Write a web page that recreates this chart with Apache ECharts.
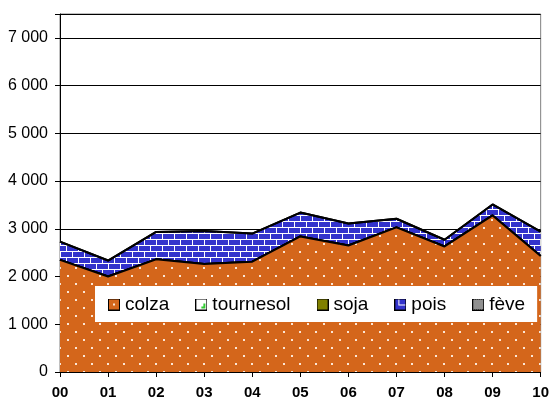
<!DOCTYPE html>
<html>
<head>
<meta charset="utf-8">
<script src="https://cdn.jsdelivr.net/npm/echarts@6/dist/echarts.min.js"></script>
<style>
  html, body { margin: 0; padding: 0; background: #fff; }
  #chart { width: 552px; height: 403px; }
</style>
</head>
<body>
<div id="chart"></div>
<script>
// data (stacked, in order)
const years = ["00", "01", "02", "03", "04", "05", "06", "07", "08", "09", "10"];
const colza = [2350, 2000, 2360, 2265, 2310, 2840, 2650, 3030, 2630, 3280, 2430];
const tournesol = [0, 0, 0, 0, 0, 0, 0, 0, 0, 0, 0];
const soja = [0, 0, 0, 0, 0, 0, 0, 0, 0, 0, 0];
const pois = [380, 335, 575, 690, 590, 500, 460, 180, 140, 230, 510];
const feve = [0, 0, 0, 0, 0, 0, 0, 0, 0, 0, 0];
const yLabels = ["0", "1 000", "2 000", "3 000", "4 000", "5 000", "6 000", "7 000"];

const FONT = "'Liberation Sans', Arial, sans-serif";
const ORANGE = "#D4661B";
const BLUE = "#3333CC";

function tile(w, h, draw) {
  const c = document.createElement("canvas");
  c.width = w;
  c.height = h;
  draw(c.getContext("2d"), w, h);
  return c;
}

// fill patterns
const dots = tile(16, 16, (g) => {
  g.fillStyle = ORANGE;
  g.fillRect(0, 0, 16, 16);
  g.fillStyle = "#FBE6D6";
  g.fillRect(3, 3, 2, 2);
  g.fillRect(11, 11, 2, 2);
});
const bricks = tile(12, 12, (g) => {
  g.fillStyle = BLUE;
  g.fillRect(0, 0, 12, 12);
  g.fillStyle = "#fff";
  g.fillRect(0, 5, 12, 1);
  g.fillRect(0, 11, 12, 1);
  g.fillRect(0, 0, 1, 5);
  g.fillRect(6, 6, 1, 5);
});
const green = tile(8, 8, (g) => {
  g.fillStyle = "#fff";
  g.fillRect(0, 0, 8, 8);
  g.fillStyle = "#33CC33";
  g.fillRect(6, 3, 1, 4);
});
const checker = tile(2, 2, (g) => {
  g.fillStyle = "#fff";
  g.fillRect(0, 0, 2, 2);
  g.fillStyle = "#555";
  g.fillRect(0, 0, 1, 1);
  g.fillRect(1, 1, 1, 1);
});

// legend icons, 12x12 with black frame
function icon(draw) {
  return "image://" + tile(12, 12, (g) => {
    g.fillStyle = "#000";
    g.fillRect(0, 0, 12, 12);
    draw(g);
  }).toDataURL();
}
const icons = {
  colza: icon((g) => {
    g.fillStyle = ORANGE; g.fillRect(1, 1, 10, 10);
    g.fillStyle = "#FBE6D6"; g.fillRect(5, 5, 2, 2);
  }),
  tournesol: icon((g) => {
    g.fillStyle = "#fff"; g.fillRect(1, 1, 10, 10);
    g.fillStyle = "#33CC33"; g.fillRect(8, 5, 2, 5); g.fillRect(6, 8, 4, 2);
  }),
  soja: icon((g) => {
    g.fillStyle = "#808000"; g.fillRect(1, 1, 10, 10);
  }),
  pois: icon((g) => {
    g.fillStyle = BLUE; g.fillRect(1, 1, 10, 10);
    g.fillStyle = "#fff"; g.fillRect(4, 1, 1, 6); g.fillRect(4, 6, 7, 1);
  }),
  feve: icon((g) => {
    g.fillStyle = "#444"; g.fillRect(1, 1, 10, 10);
    g.fillStyle = "#ddd";
    for (let y = 1; y < 11; y++) for (let x = 1 + (y % 2); x < 11; x += 2) g.fillRect(x, y, 1, 1);
  }),
};

function layer(name, data, fill, z) {
  return {
    name, type: "line", stack: "total", data, z,
    symbol: "none",
    lineStyle: { color: "#000", width: 2 },
    itemStyle: { color: fill },
    areaStyle: { color: fill, opacity: 1 },
  };
}

const chart = echarts.init(document.getElementById("chart"), null, { renderer: "canvas" });
chart.setOption({
  animation: false,
  grid: {
    left: 60, right: 9, top: 14, bottom: 31,
    show: true, borderColor: "#808080", borderWidth: 1,
  },
  legend: {
    z: 20,
    left: 95, top: 286,
    backgroundColor: "#fff",
    padding: [9, 12, 8, 13],
    itemGap: 26,
    itemWidth: 12, itemHeight: 12,
    textStyle: { fontFamily: FONT, fontSize: 19, color: "#000" },
    data: [
      { name: "colza", icon: icons.colza },
      { name: "tournesol", icon: icons.tournesol },
      { name: "soja", icon: icons.soja },
      { name: "pois", icon: icons.pois },
      { name: "fève", icon: icons.feve },
    ],
  },
  xAxis: {
    type: "category",
    data: years,
    boundaryGap: false,
    axisLine: { lineStyle: { color: "#000", width: 1 } },
    axisTick: { show: true, length: 5, lineStyle: { color: "#000" } },
    axisLabel: { fontFamily: FONT, fontSize: 15, fontWeight: "bold", color: "#000", margin: 13 },
    splitLine: { show: false },
  },
  yAxis: {
    type: "value",
    min: 0, max: 7500, interval: 1000,
    axisLine: { show: true, lineStyle: { color: "#000", width: 1 } },
    axisTick: { show: true, length: 5, lineStyle: { color: "#000" } },
    axisLabel: {
      fontFamily: FONT, fontSize: 16, color: "#000", margin: 12,
      formatter: (v) => yLabels[v / 1000] ?? "",
    },
    splitLine: { lineStyle: { color: "#000", width: 1 } },
  },
  series: [
    layer("colza", colza, { image: dots, repeat: "repeat" }, 5),
    layer("tournesol", tournesol, { image: green, repeat: "repeat" }, 4),
    layer("soja", soja, "#808000", 3),
    layer("pois", pois, { image: bricks, repeat: "repeat" }, 2),
    layer("fève", feve, { image: checker, repeat: "repeat" }, 2),
  ],
});
</script>
</body>
</html>
